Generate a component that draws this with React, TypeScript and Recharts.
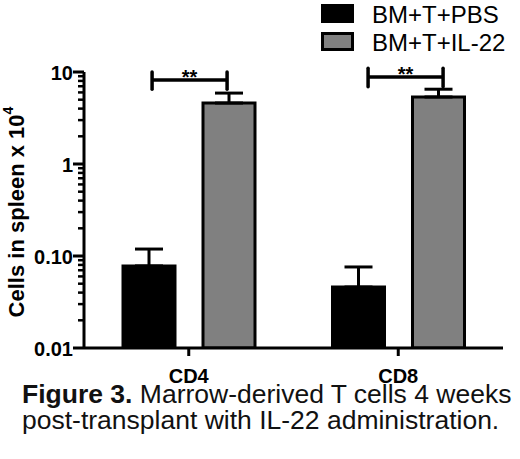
import React from 'react';
import { BarChart, Bar, XAxis, YAxis, ErrorBar, ReferenceLine, Legend } from 'recharts';

const categories = ['CD4', 'CD8'];
const categoryPositions = [0.5, 1.5];
const seriesNames = ['BM+T+PBS', 'BM+T+IL-22'];
const pbsValues = [0.078, 0.046];
const pbsErrors = [0.041, 0.03];
const il22Values = [4.6, 5.35];
const il22Errors = [1.3, 1.15];
const majorTicks = [0.01, 0.1, 1, 10];
const majorTickLabels = ['0.01', '0.10', '1', '10'];
const minorMultipliers = [2, 3, 4, 5, 6, 7, 8, 9];
const significance = ['**', '**'];
const bracketX = [[0.325, 0.683], [1.356, 1.714]];
const bracketY = [8.2, 8.8];
const bracketCapLow = [6.5, 6.9];
const bracketCapHigh = [10.0, 11.0];
const captionBold = 'Figure 3.';
const captionLine1 = ' Marrow-derived T cells 4 weeks';
const captionLine2 = 'post-transplant with IL-22 administration.';

const data = categories.map((c, i) => ({
  cat: c,
  pos: categoryPositions[i],
  pbs: pbsValues[i],
  pbsErr: [0, pbsErrors[i]],
  il22: il22Values[i],
  il22Err: [0, il22Errors[i]],
}));

const yTicks: number[] = [];
majorTicks.forEach((m, i) => {
  yTicks.push(m);
  if (i < majorTicks.length - 1) {
    minorMultipliers.forEach((k) => yTicks.push(Number((m * k).toPrecision(3))));
  }
});

const FONT = '"Liberation Sans", Arial, Helvetica, sans-serif';

const YTick = (props: any) => {
  const { x, y, payload } = props;
  const v = payload.value;
  const idx = majorTicks.findIndex((m) => Math.abs(m - v) / m < 1e-6);
  const isMajor = idx >= 0;
  return (
    <g>
      <line x1={x - (isMajor ? 11 : 6)} x2={x} y1={y} y2={y} stroke="#000" strokeWidth={isMajor ? 3 : 2.5} />
      {isMajor && (
        <text x={x - 11} y={y} dy={8} textAnchor="end" fontSize={20} fontWeight="bold" fontFamily={FONT} fill="#000">
          {majorTickLabels[idx]}
        </text>
      )}
    </g>
  );
};

const YLabel = () => (
  <text
    x={16}
    y={212}
    transform="rotate(-90 16 212)"
    textAnchor="middle"
    dominantBaseline="central"
    fontSize={22}
    fontWeight="bold"
    fontFamily={FONT}
    fill="#000"
  >
    Cells in spleen x 10
    <tspan fontSize={14} dy={-8}>4</tspan>
  </text>
);

const LegendContent = (props: any) => {
  const { payload } = props;
  const items = [...(payload || [])].sort(
    (a: any, b: any) => seriesNames.indexOf(a.value) - seriesNames.indexOf(b.value)
  );
  return (
    <svg width={200} height={56} style={{ display: 'block' }}>
      {items.map((p: any, i: number) => (
        <g key={i}>
          <rect x={2.5} y={5.5 + i * 28} width={30} height={16} fill={p.color} stroke="#000" strokeWidth={3} />
          <text x={52} y={14 + i * 28} dy={8.5} fontSize={24} fontFamily={FONT} fill="#000">
            {p.value}
          </text>
        </g>
      ))}
    </svg>
  );
};

export default function App() {
  return (
    <div style={{ position: 'absolute', left: 0, top: 0, width: 520, height: 459, background: '#fff' }}>
      <BarChart
        width={520}
        height={400}
        data={data}
        margin={{ top: 72, right: 17, bottom: 20, left: 0 }}
        barGap={28}
      >
        <XAxis
          dataKey="pos"
          type="number"
          domain={[0, 2]}
          allowDataOverflow
          ticks={categoryPositions}
          interval={0}
          tickFormatter={(v: number) => categories[categoryPositions.indexOf(v)] ?? ''}
          height={32}
          axisLine={{ stroke: '#000', strokeWidth: 3 }}
          tickLine={{ stroke: '#000', strokeWidth: 3 }}
          tickSize={8}
          tickMargin={13}
          tick={{ fontSize: 20, fontWeight: 'bold', fill: '#000', fontFamily: FONT }}
        />
        <YAxis
          type="number"
          scale="log"
          domain={[0.01, 10]}
          ticks={yTicks}
          interval={0}
          width={84}
          axisLine={{ stroke: '#000', strokeWidth: 3 }}
          tickLine={false}
          tickSize={0}
          tickMargin={0}
          tick={<YTick />}
          label={<YLabel />}
          allowDataOverflow
        />
        <Legend
          layout="vertical"
          align="center"
          verticalAlign="middle"
          content={<LegendContent />}
          wrapperStyle={{ top: 0, left: 320, width: 200, height: 56 }}
        />
        <Bar dataKey="pbs" name={seriesNames[0]} fill="#000" stroke="#000" strokeWidth={3} barSize={52} isAnimationActive={false}>
          <ErrorBar dataKey="pbsErr" width={14} stroke="#000" strokeWidth={3} direction="y" />
        </Bar>
        <Bar dataKey="il22" name={seriesNames[1]} fill="#808080" stroke="#000" strokeWidth={3} barSize={52} isAnimationActive={false}>
          <ErrorBar dataKey="il22Err" width={14} stroke="#000" strokeWidth={3} direction="y" />
        </Bar>
        {bracketX.map((bx, i) => (
          <ReferenceLine
            key={'h' + i}
            ifOverflow="visible"
            segment={[{ x: bx[0], y: bracketY[i] }, { x: bx[1], y: bracketY[i] }]}
            stroke="#000"
            strokeWidth={3.5}
            label={{ value: significance[i], position: 'top', offset: -4, fontSize: 20, fontWeight: 'bold', fill: '#000', fontFamily: FONT }}
          />
        ))}
        {bracketX.map((bx, i) =>
          bx.map((xv, j) => (
            <ReferenceLine
              key={'c' + i + '-' + j}
              ifOverflow="visible"
              segment={[{ x: xv, y: bracketCapLow[i] }, { x: xv, y: bracketCapHigh[i] }]}
              stroke="#000"
              strokeWidth={3.5}
              strokeLinecap="round"
            />
          ))
        )}
      </BarChart>
      <div
        style={{
          position: 'absolute',
          left: 22,
          top: 381,
          width: 498,
          fontFamily: FONT,
          fontSize: 26.5,
          lineHeight: '26px',
          color: '#111',
          whiteSpace: 'nowrap',
        }}
      >
        <b>{captionBold}</b>
        {captionLine1}
        <br />
        {captionLine2}
      </div>
    </div>
  );
}
